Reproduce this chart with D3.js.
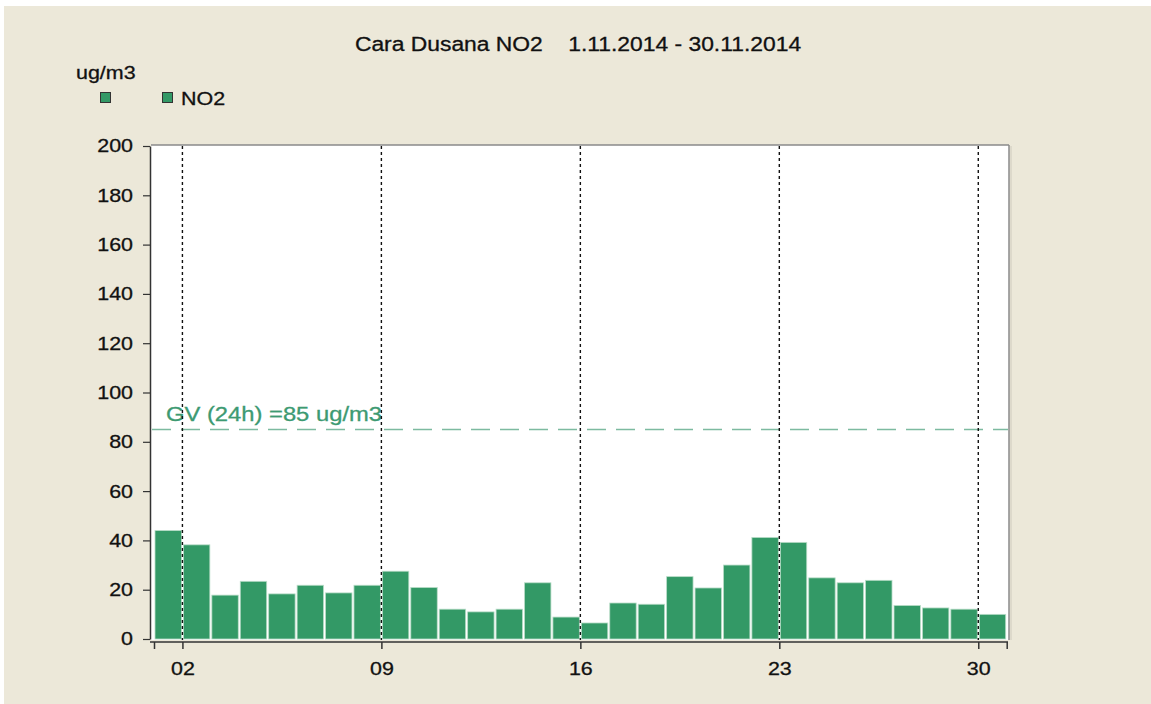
<!DOCTYPE html>
<html>
<head>
<meta charset="utf-8">
<script src="https://cdn.jsdelivr.net/npm/d3@7"></script>
<style>
  html, body { margin: 0; padding: 0; background: #ffffff; }
  svg { display: block; }
  text { font-family: "Liberation Sans", Arial, sans-serif; }
</style>
</head>
<body>
<svg id="chart" width="1151" height="704"></svg>
<script>
// ---- data ----
const title = "Cara Dusana NO2    1.11.2014 - 30.11.2014";
const unitLabel = "ug/m3";
const seriesName = "NO2";
const days = d3.range(1, 31);
const no2 = [44, 38.2, 17.8, 23.4, 18.3, 21.8, 18.7, 21.8, 27.5, 20.9,
             12.1, 11, 12.1, 22.8, 8.9, 6.5, 14.6, 14.1, 25.3, 20.7,
             30, 41.2, 39.2, 24.8, 22.8, 23.8, 13.6, 12.6, 12.1, 10];
const yTicks = [0, 20, 40, 60, 80, 100, 120, 140, 160, 180, 200];
const xTickDays = [1, 2, 9, 16, 23, 30, 31];
const xTickLabels = {2: "02", 9: "09", 16: "16", 23: "23", 30: "30"};
const limitValue = 85;
const limitLabel = "GV (24h) =85 ug/m3";

// ---- layout ----
const SX = 1.16; // horizontal text stretch
const svg = d3.select("#chart");
svg.append("rect").attr("x", 4).attr("y", 6).attr("width", 1151).attr("height", 704).attr("fill", "#ece8d9");

const x = d3.scaleLinear().domain([1, 31]).range([154, 1006.7]);
const y = d3.scaleLinear().domain([0, 200]).range([639, 146]);

function stretchedText(g, tx, ty, str, size, anchor, color) {
  return g.append("text")
    .attr("transform", `translate(${tx},${ty}) scale(${SX},1)`)
    .attr("font-size", size)
    .attr("text-anchor", anchor || "start")
    .attr("fill", color || "#111")
    .attr("stroke", color || "#111")
    .attr("stroke-width", 0.3)
    .style("white-space", "pre")
    .text(str);
}

// plot area
svg.append("rect").attr("x", 151).attr("y", 145).attr("width", 858).attr("height", 495).attr("fill", "#ffffff");
svg.append("line").attr("x1", 151).attr("x2", 1009).attr("y1", 145).attr("y2", 145).attr("stroke", "#8a8a8a").attr("stroke-width", 1.5);
svg.append("line").attr("x1", 1009).attr("x2", 1009).attr("y1", 145).attr("y2", 640).attr("stroke", "#8a8a8a").attr("stroke-width", 1.5);
svg.append("line").attr("x1", 1011).attr("x2", 1011).attr("y1", 146).attr("y2", 640).attr("stroke", "#d8d4c6").attr("stroke-width", 1.5);

// bars
svg.append("g").selectAll("rect").data(days).join("rect")
  .attr("x", d => x(d) + 1)
  .attr("y", (d, i) => y(no2[i]))
  .attr("width", d => x(d + 1) - x(d) - 2)
  .attr("height", (d, i) => y(0) - y(no2[i]))
  .attr("fill", "#339966")
  .attr("stroke", "#b9dcc8")
  .attr("stroke-width", 0.8);

// limit line
svg.append("line")
  .attr("x1", 152).attr("x2", 1008)
  .attr("y1", y(limitValue)).attr("y2", y(limitValue))
  .attr("stroke", "#7dbaa0").attr("stroke-width", 1.6)
  .attr("stroke-dasharray", "19,10");
stretchedText(svg, 166, 421, limitLabel, 20.5, "start", "#3d9a72");

// vertical dotted grid lines
svg.append("g").selectAll("line").data([2, 9, 16, 23, 30]).join("line")
  .attr("x1", d => x(d)).attr("x2", d => x(d))
  .attr("y1", 146).attr("y2", 640)
  .attr("stroke", "#111").attr("stroke-width", 1.4)
  .attr("stroke-dasharray", "3,3");

// y axis
const yAxis = svg.append("g").attr("transform", "translate(150,0)")
  .call(d3.axisLeft(y).tickValues(yTicks).tickSize(7).tickSizeOuter(0).tickPadding(10));
yAxis.select(".domain").attr("stroke", "#333").attr("stroke-width", 1.5);
yAxis.selectAll(".tick line").attr("stroke", "#333").attr("stroke-width", 1.2);
yAxis.selectAll(".tick text")
  .attr("font-size", 18.5).attr("fill", "#111")
  .attr("stroke", "#111").attr("stroke-width", 0.3)
  .attr("font-family", "Liberation Sans, Arial, sans-serif")
  .attr("x", -17 / SX)
  .attr("transform", `scale(${SX},1)`);

// x axis
const xAxis = svg.append("g").attr("transform", "translate(0,642)")
  .call(d3.axisBottom(x).tickValues(xTickDays).tickSize(7).tickSizeOuter(0).tickPadding(13)
    .tickFormat(d => xTickLabels[d] || ""));
xAxis.select(".domain").remove();
xAxis.append("line").attr("x1", 150).attr("x2", 1008).attr("y1", 0).attr("y2", 0)
  .attr("stroke", "#333").attr("stroke-width", 1.5);
xAxis.selectAll(".tick line").attr("stroke", "#333").attr("stroke-width", 1.5);
xAxis.selectAll(".tick text")
  .attr("font-size", 18.5).attr("fill", "#111")
  .attr("stroke", "#111").attr("stroke-width", 0.3)
  .attr("font-family", "Liberation Sans, Arial, sans-serif")
  .attr("transform", `scale(${SX},1)`);

// title
stretchedText(svg, 578, 51, title, 19.7, "middle", "#111");

// unit label & legend
stretchedText(svg, 76, 79, unitLabel, 18.5, "start", "#111");
svg.append("rect").attr("x", 100.5).attr("y", 92.5).attr("width", 10).attr("height", 10)
  .attr("fill", "#339966").attr("stroke", "#333").attr("stroke-width", 1);
svg.append("rect").attr("x", 162.5).attr("y", 92.5).attr("width", 10).attr("height", 10)
  .attr("fill", "#339966").attr("stroke", "#333").attr("stroke-width", 1);
stretchedText(svg, 181, 105, seriesName, 18.5, "start", "#111");
</script>
</body>
</html>
